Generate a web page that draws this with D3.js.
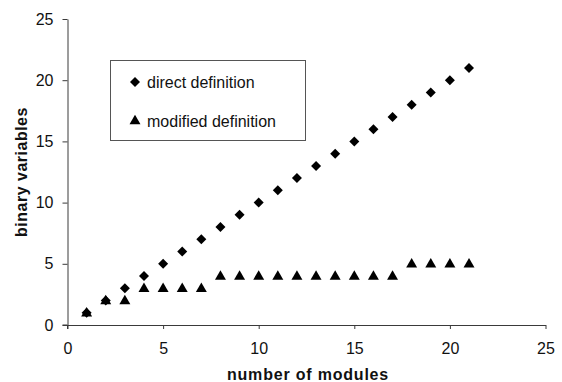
<!DOCTYPE html>
<html>
<head>
<meta charset="utf-8">
<script src="https://cdn.jsdelivr.net/npm/d3@7"></script>
<style>
  html, body { margin: 0; padding: 0; background: #fff; }
  svg { display: block; font-family: Arial, "Liberation Sans", sans-serif; }
</style>
</head>
<body>
<svg id="chart" width="562" height="382"></svg>
<script>
// Binary variables required versus number of modules
const modules = [1, 2, 3, 4, 5, 6, 7, 8, 9, 10, 11, 12, 13, 14, 15, 16, 17, 18, 19, 20, 21];
const directValues = [1, 2, 3, 4, 5, 6, 7, 8, 9, 10, 11, 12, 13, 14, 15, 16, 17, 18, 19, 20, 21];
const modifiedValues = [1, 2, 2, 3, 3, 3, 3, 4, 4, 4, 4, 4, 4, 4, 4, 4, 4, 5, 5, 5, 5];
const xTicks = [0, 5, 10, 15, 20, 25];
const yTicks = [0, 5, 10, 15, 20, 25];
const seriesNames = ["direct definition", "modified definition"];

const svg = d3.select("#chart");
const margin = { left: 67.5, top: 19, right: 16.5, bottom: 57 };
const W = 562, H = 382;

const x = d3.scaleLinear().domain([0, 25]).range([margin.left, W - margin.right]);
const y = d3.scaleLinear().domain([0, 25]).range([H - margin.bottom, margin.top]);

const axisColor = "#3a3a3a";
const textColor = "#111";

// x axis
const gx = svg.append("g")
  .attr("transform", `translate(0,${y(0)})`)
  .call(d3.axisBottom(x).tickValues(xTicks).tickSize(4).tickPadding(14).tickSizeOuter(0));
gx.select(".domain").attr("stroke", axisColor);
gx.selectAll(".tick line").attr("stroke", axisColor);
gx.selectAll(".tick text").attr("font-size", 16).attr("fill", textColor)
  .attr("font-family", "Arial, 'Liberation Sans', sans-serif");

// y axis
const gy = svg.append("g")
  .attr("transform", `translate(${x(0)},0)`)
  .call(d3.axisLeft(y).tickValues(yTicks).tickSize(5).tickPadding(9).tickSizeOuter(0));
gy.select(".domain").attr("stroke", axisColor);
gy.selectAll(".tick line").attr("stroke", axisColor);
gy.selectAll(".tick text").attr("font-size", 16).attr("fill", textColor)
  .attr("font-family", "Arial, 'Liberation Sans', sans-serif");

// extend axes slightly past the origin
svg.append("line").attr("x1", x(0) - 5).attr("x2", x(0)).attr("y1", y(0)).attr("y2", y(0)).attr("stroke", axisColor);
svg.append("line").attr("x1", x(0)).attr("x2", x(0)).attr("y1", y(0)).attr("y2", y(0) + 4).attr("stroke", axisColor);

// axis titles
svg.append("text")
  .attr("x", 308)
  .attr("y", 380)
  .attr("text-anchor", "middle")
  .attr("font-size", 16).attr("font-weight", "bold")
  .attr("letter-spacing", 0.8)
  .attr("fill", textColor)
  .text("number of modules");

svg.append("text")
  .attr("transform", `translate(27,172) rotate(-90)`)
  .attr("text-anchor", "middle")
  .attr("font-size", 16).attr("font-weight", "bold")
  .attr("letter-spacing", 0.5)
  .attr("fill", textColor)
  .text("binary variables");

// diamond = square turned 45 degrees
const diamond = d3.symbol().type(d3.symbolSquare).size(50);
const triangle = d3.symbol().type(d3.symbolTriangle).size(52);

// direct definition points
svg.append("g").selectAll("path")
  .data(modules.map((m, i) => [m, directValues[i]]))
  .join("path")
  .attr("d", diamond)
  .attr("transform", d => `translate(${x(d[0])},${y(d[1])}) rotate(45)`)
  .attr("fill", "#000");

// modified definition points
svg.append("g").selectAll("path")
  .data(modules.map((m, i) => [m, modifiedValues[i]]))
  .join("path")
  .attr("d", triangle)
  .attr("transform", d => `translate(${x(d[0])},${y(d[1]) + 0.5})`)
  .attr("fill", "#000");

// legend
const legend = svg.append("g");
legend.append("rect")
  .attr("x", 110.5).attr("y", 60.5)
  .attr("width", 195).attr("height", 80)
  .attr("fill", "#fff").attr("stroke", "#555").attr("stroke-width", 1);

const legendRows = [
  { name: seriesNames[0], sym: diamond, rot: 45, cy: 82 },
  { name: seriesNames[1], sym: triangle, rot: 0, cy: 121 }
];
legendRows.forEach(r => {
  legend.append("path")
    .attr("d", r.sym)
    .attr("transform", `translate(135,${r.cy}) rotate(${r.rot})`)
    .attr("fill", "#000");
  legend.append("text")
    .attr("x", 147).attr("y", r.cy + 5.5)
    .attr("font-size", 16)
    .attr("fill", textColor)
    .text(r.name);
});
</script>
</body>
</html>
